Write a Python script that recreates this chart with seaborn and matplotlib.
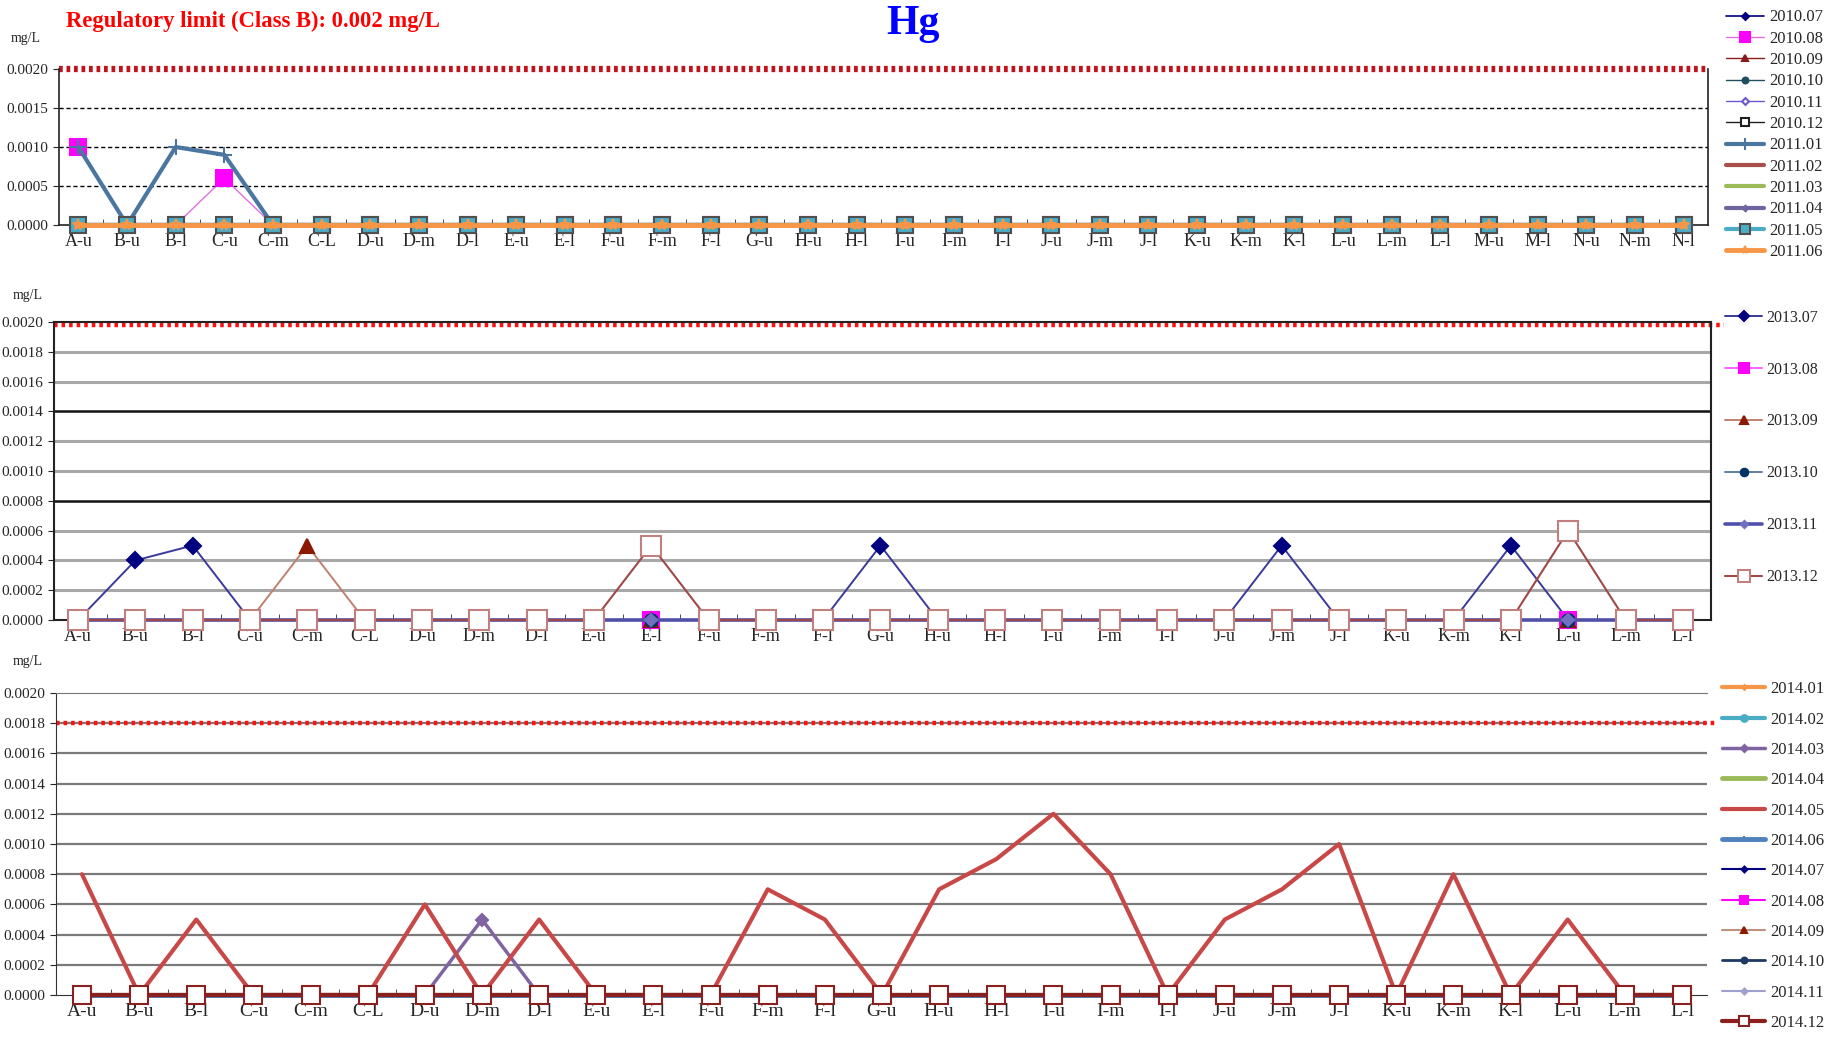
import numpy as np
import pandas as pd
import matplotlib
matplotlib.use("Agg")
import matplotlib.pyplot as plt
from matplotlib.ticker import FormatStrFormatter
import seaborn as sns

# site labels
sites_top = ["A-u", "B-u", "B-l", "C-u", "C-m", "C-L", "D-u", "D-m", "D-l", "E-u",
             "E-l", "F-u", "F-m", "F-l", "G-u", "H-u", "H-l", "I-u", "I-m", "I-l",
             "J-u", "J-m", "J-l", "K-u", "K-m", "K-l", "L-u", "L-m", "L-l", "M-u",
             "M-l", "N-u", "N-m", "N-l"]
sites = ["A-u", "B-u", "B-l", "C-u", "C-m", "C-L", "D-u", "D-m", "D-l", "E-u",
         "E-l", "F-u", "F-m", "F-l", "G-u", "H-u", "H-l", "I-u", "I-m", "I-l",
         "J-u", "J-m", "J-l", "K-u", "K-m", "K-l", "L-u", "L-m", "L-l"]

zero_top = [0.0] * len(sites_top)
zero = [0.0] * len(sites)

# 2010.07 - 2011.06 (mg/L)
months_top = ["2010.07", "2010.08", "2010.09", "2010.10", "2010.11", "2010.12",
              "2011.01", "2011.02", "2011.03", "2011.04", "2011.05", "2011.06"]
hg_2010_08 = [0.0010, 0, 0, 0.0006] + [0.0] * 30
hg_2011_01 = [0.0010, 0, 0.0010, 0.0009] + [0.0] * 30
values_top = [zero_top, hg_2010_08, zero_top, zero_top, zero_top, zero_top,
              hg_2011_01, zero_top, zero_top, zero_top, zero_top, zero_top]

# 2013.07 - 2013.12
months_mid = ["2013.07", "2013.08", "2013.09", "2013.10", "2013.11", "2013.12"]
hg_2013_07 = [0, 0.0004, 0.0005, 0, 0, 0, 0, 0, 0, 0,
              0, 0, 0, 0, 0.0005, 0, 0, 0, 0, 0,
              0, 0.0005, 0, 0, 0, 0.0005, 0, 0, 0]
hg_2013_09 = [0, 0, 0, 0, 0.0005, 0, 0, 0, 0, 0,
              0, 0, 0, 0, 0, 0, 0, 0, 0, 0,
              0, 0, 0, 0, 0, 0, 0, 0, 0]
hg_2013_12 = [0, 0, 0, 0, 0, 0, 0, 0, 0, 0,
              0.0005, 0, 0, 0, 0, 0, 0, 0, 0, 0,
              0, 0, 0, 0, 0, 0, 0.0006, 0, 0]
values_mid = [hg_2013_07, zero, hg_2013_09, zero, zero, hg_2013_12]

# 2014.01 - 2014.12
months_bot = ["2014.01", "2014.02", "2014.03", "2014.04", "2014.05", "2014.06",
              "2014.07", "2014.08", "2014.09", "2014.10", "2014.11", "2014.12"]
hg_2014_03 = [0, 0, 0, 0, 0, 0, 0, 0.0005, 0, 0,
              0, 0, 0, 0, 0, 0, 0, 0, 0, 0,
              0, 0, 0, 0, 0, 0, 0, 0, 0]
hg_2014_05 = [0.0008, 0, 0.0005, 0, 0, 0, 0.0006, 0, 0.0005, 0,
              0, 0, 0.0007, 0.0005, 0, 0.0007, 0.0009, 0.0012, 0.0008, 0,
              0.0005, 0.0007, 0.0010, 0, 0.0008, 0, 0.0005, 0, 0]
values_bot = [zero, zero, hg_2014_03, zero, hg_2014_05, zero,
              zero, zero, zero, zero, zero, zero]

limit_top = 0.0020
limit_mid = 0.00198
limit_bot = 0.0018

# styles: line colour, lw, marker, ms, face, edge
style_top = [
    ("#000080", 1.2, "D", 5, "#000080", "#000080"),
    ("#e070e0", 1.0, "s", 11, "#ff00ff", "#ff00ff"),
    ("#8b1a1a", 1.0, "^", 6, "#8b1a1a", "#8b1a1a"),
    ("#1f4e5f", 1.0, "o", 6, "#1f4e5f", "#1f4e5f"),
    ("#6a5acd", 1.0, "D", 5, "white", "#6a5acd"),
    ("#202020", 1.0, "s", 8, "white", "#202020"),
    ("#4a76a0", 3.0, "+", 12, "#4a76a0", "#4a76a0"),
    ("#a9504d", 3.0, None, 0, None, None),
    ("#9bbb59", 3.0, None, 0, None, None),
    ("#7064a0", 3.0, "D", 4, "#7064a0", "#7064a0"),
    ("#4bacc6", 3.0, "s", 11, "#4bacc6", "#505050"),
    ("#f79646", 3.5, "*", 8, "#f79646", "#f79646"),
]
style_mid = [
    ("#3a3a9a", 1.4, "D", 8, "#000080", "#000080"),
    ("#ff66ff", 1.4, "s", 11, "#ff00ff", "#ff00ff"),
    ("#c08070", 1.4, "^", 10, "#8b1a00", "#8b1a00"),
    ("#6080a0", 1.4, "o", 9, "#003366", "#003366"),
    ("#5050a8", 2.6, "D", 6, "#7070c0", "#7070c0"),
    ("#a04848", 1.5, "s", 14, "white", "#c08080"),
]
style_bot = [
    ("#f79646", 3.0, "D", 4, "#f79646", "#f79646"),
    ("#4bacc6", 3.0, "o", 8, "#4bacc6", "#4bacc6"),
    ("#8064a2", 2.5, "D", 6, "#8064a2", "#8064a2"),
    ("#9bbb59", 3.5, None, 0, None, None),
    ("#c84848", 3.0, None, 0, None, None),
    ("#4f81bd", 3.5, "+", 8, "#4f81bd", "#4f81bd"),
    ("#000080", 1.5, "D", 5, "#000080", "#000080"),
    ("#ff00ff", 1.5, "s", 9, "#ff00ff", "#ff00ff"),
    ("#c09080", 1.5, "^", 7, "#8b1a00", "#8b1a00"),
    ("#1f3864", 2.0, "o", 7, "#1f3864", "#1f3864"),
    ("#a0a0d0", 1.5, "D", 5, "#a0a0d0", "#a0a0d0"),
    ("#8b2020", 3.0, "s", 13, "white", "#8b2020"),
]

sns.set_style("white")
plt.rcParams["font.family"] = ["Liberation Serif", "DejaVu Serif"]

fig = plt.figure(figsize=(18.25, 10.37), dpi=100)
ax_top = fig.add_axes([0.0323, 0.783, 0.9035, 0.1504])
ax_mid = fig.add_axes([0.0296, 0.4021, 0.9079, 0.2874])
ax_bot = fig.add_axes([0.0307, 0.0405, 0.9047, 0.2912])


def draw_series(ax, labels, months, values, styles):
    x = np.arange(len(labels))
    for i, (m, v, st) in enumerate(zip(months, values, styles)):
        c, lw, mk, ms, fc, ec = st
        kw = dict(color=c, lw=lw, label=m, clip_on=False, zorder=3 + i)
        if mk is not None:
            kw.update(marker=mk, ms=ms, mfc=fc, mec=ec, mew=1.5)
        sns.lineplot(x=x, y=v, ax=ax, errorbar=None, **kw)
    ax.set_xticks(x)
    ax.set_xticklabels(labels)
    ax.set_xticks(x[:-1] + 0.5, minor=True)
    ax.tick_params(axis="x", which="major", length=0, pad=6)
    ax.tick_params(axis="x", which="minor", direction="in", length=4,
                   bottom=True, color="#333333")
    ax.tick_params(axis="y", which="major", length=4, left=True,
                   direction="out", labelsize=11)
    ax.yaxis.set_major_formatter(FormatStrFormatter("%.4f"))
    ax.set_xlabel("")
    ax.set_ylabel("")


# top panel
draw_series(ax_top, sites_top, months_top, values_top, style_top)
ax_top.set_xlim(-0.4, 33.5)
ax_top.set_ylim(0, 0.002)
ax_top.set_yticks([0, 0.0005, 0.001, 0.0015, 0.002])
for yv in [0.0005, 0.001, 0.0015]:
    ax_top.axhline(yv, color="black", lw=1, ls=(0, (3, 2)), zorder=1)
ax_top.axhline(limit_top, color="#c0141c", lw=4.5, ls=(0, (0.6, 0.6)),
               clip_on=False, zorder=2)
ax_top.spines["top"].set_visible(False)
for s in ["left", "bottom", "right"]:
    ax_top.spines[s].set_color("#222222")
    ax_top.spines[s].set_linewidth(1.2)
ax_top.tick_params(axis="x", labelsize=13)

# middle panel
draw_series(ax_mid, sites, months_mid, values_mid, style_mid)
ax_mid.set_xlim(-0.42, 28.49)
ax_mid.set_ylim(0, 0.002)
ax_mid.set_yticks(np.arange(11) * 0.0002)
for k in range(1, 10):
    yv = k * 0.0002
    if k in (4, 7):
        ax_mid.axhline(yv, color="#111111", lw=1.8, zorder=1)
    else:
        ax_mid.axhline(yv, color="#a8a8a8", lw=2.2, zorder=1)
ax_mid.axhline(limit_mid, xmax=1.008, color="#ff1010", lw=3.2,
               ls=(0, (0.8, 0.9)), clip_on=False, zorder=2)
for s in ax_mid.spines.values():
    s.set_color("#222222")
    s.set_linewidth(1.5)
ax_mid.tick_params(axis="x", labelsize=13)

# bottom panel
draw_series(ax_bot, sites, months_bot, values_bot, style_bot)
ax_bot.set_xlim(-0.455, 28.44)
ax_bot.set_ylim(0, 0.002)
ax_bot.set_yticks(np.arange(11) * 0.0002)
for k in range(1, 10):
    ax_bot.axhline(k * 0.0002, color="#7a7a7a", lw=1.6, zorder=1)
ax_bot.axhline(limit_bot, xmax=1.006, color="#ff1010", lw=3.2,
               ls=(0, (0.8, 0.9)), clip_on=False, zorder=2)
ax_bot.spines["right"].set_visible(False)
ax_bot.spines["top"].set_color("#777777")
ax_bot.spines["left"].set_color("#333333")
ax_bot.spines["bottom"].set_color("#333333")
ax_bot.tick_params(axis="x", labelsize=14)

# legends
leg_top = ax_top.legend(loc="center left", bbox_to_anchor=(0.941, 0.870),
                        bbox_transform=fig.transFigure, frameon=False,
                        fontsize=12, labelspacing=0.32, handlelength=2.3,
                        handletextpad=0.3, borderpad=0, markerscale=0.7)
leg_mid = ax_mid.legend(loc="center left", bbox_to_anchor=(0.941, 0.5685),
                        bbox_transform=fig.transFigure, frameon=False,
                        fontsize=11.5, labelspacing=2.25, handlelength=2.3,
                        handletextpad=0.25, borderpad=0, markerscale=0.6)
leg_bot = ax_bot.legend(loc="center left", bbox_to_anchor=(0.939, 0.1745),
                        bbox_transform=fig.transFigure, frameon=False,
                        fontsize=12, labelspacing=0.86, handlelength=2.6,
                        handletextpad=0.3, borderpad=0, markerscale=0.6)

# titles and units
fig.text(0.036, 0.979, "Regulatory limit (Class B): 0.002 mg/L", color="#ff0000",
         fontsize=16.3, fontweight="bold", ha="left", va="center")
fig.text(0.5, 0.977, "Hg", color="#0000ff", fontsize=30, fontweight="bold",
         ha="center", va="center")
fig.text(0.006, 0.963, "mg/L", fontsize=10, ha="left", va="center")
fig.text(0.007, 0.715, "mg/L", fontsize=10, ha="left", va="center")
fig.text(0.007, 0.362, "mg/L", fontsize=10, ha="left", va="center")

fig.savefig("out.png", dpi=100)
